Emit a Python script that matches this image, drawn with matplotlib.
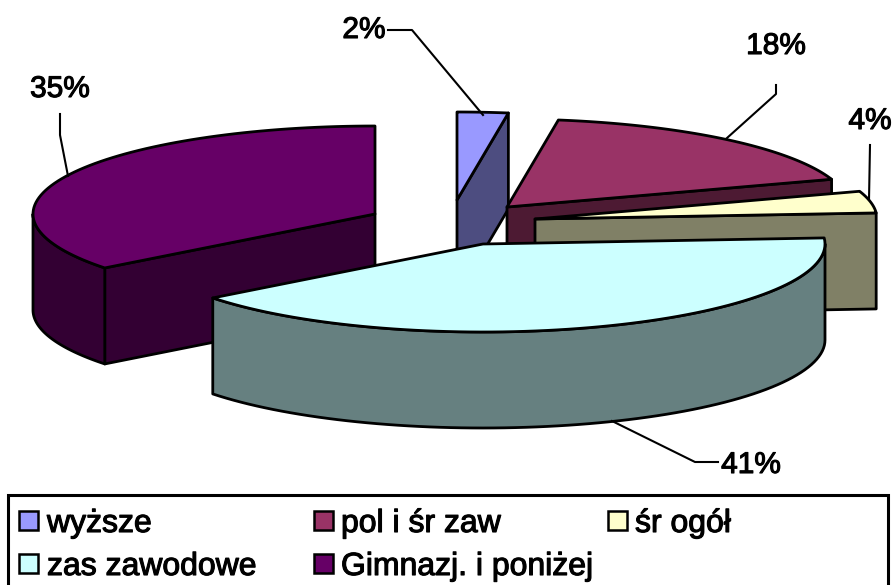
import numpy as np
import matplotlib
matplotlib.use("Agg")
import matplotlib.pyplot as plt
from matplotlib.patches import Polygon, Rectangle
import matplotlib.patheffects as pe

# --- data ---
categories = ["wyższe", "pol i śr zaw", "śr ogół", "zas zawodowe", "Gimnazj. i poniżej"]
values = [2.4, 17.5, 4.0, 40.6, 35.5]          # slice sizes
percent_labels = ["2%", "18%", "4%", "41%", "35%"]

# --- style ---
top_colors = ["#9999FF", "#993366", "#FFFFCC", "#CCFFFF", "#660066"]
side_colors = ["#4D4D80", "#4D1A33", "#808066", "#668080", "#330033"]

# --- layout (pixel space) ---
apex = [(457, 200), (507, 207), (535, 219), (483, 244), (375, 214)]
RX, RY, DEPTH = 342, 88, 96
draw_order = [0, 1, 2, 4, 3]
leaders = {
    0: [(388, 30), (412, 30), (483, 115)],
    1: [(776, 85), (776, 94), (727, 138)],
    2: [(870, 145), (869, 200)],
    3: [(612, 421), (695, 462), (718, 462)],
    4: [(60, 114), (60, 135), (68, 176)],
}
label_pos = {0: (364, 30), 1: (776, 46), 2: (870, 121), 3: (751, 465), 4: (60, 89)}
legend_x = [19, 314, 608, 19, 314]
legend_text_x = [47, 341, 635, 47, 341]
legend_base_y = [532, 532, 532, 575, 575]
LEGEND_BOX = 19

plt.rcParams["font.family"] = ["Liberation Sans", "DejaVu Sans"]
fig = plt.figure(figsize=(8.95, 5.85), dpi=100)
ax = fig.add_axes([0, 0, 1, 1])
ax.set_xlim(0, 895)
ax.set_ylim(585, 0)
ax.axis("off")

bounds = np.cumsum([0] + values) / sum(values) * 2 * np.pi


def pt(c, t, drop=0):
    return (c[0] + RX * np.sin(t), c[1] - RY * np.cos(t) + drop)


def arc(c, a, b, drop=0):
    ts = np.linspace(a, b, 80)
    return [pt(c, t, drop) for t in ts]


LW = 2.0
for i in draw_order:
    c = apex[i]
    a, b = bounds[i], bounds[i + 1]
    kw = dict(facecolor=side_colors[i], edgecolor="black", linewidth=LW, joinstyle="round")
    if np.sin(a) < -1e-6:   # start radial face looks to the viewer
        ax.add_patch(Polygon([c, pt(c, a), pt(c, a, DEPTH), (c[0], c[1] + DEPTH)], **kw))
    if np.sin(b) > 1e-6:    # end radial face looks to the viewer
        ax.add_patch(Polygon([c, pt(c, b), pt(c, b, DEPTH), (c[0], c[1] + DEPTH)], **kw))
    lo, hi = max(a, np.pi / 2), min(b, 3 * np.pi / 2)
    if hi > lo:             # outer wall
        ax.add_patch(Polygon(arc(c, lo, hi) + arc(c, lo, hi, DEPTH)[::-1], **kw))
    ax.add_patch(Polygon([c] + arc(c, a, b), facecolor=top_colors[i],
                         edgecolor="black", linewidth=LW, joinstyle="round"))

stroke = [pe.withStroke(linewidth=0.8, foreground="black")]
for i, pts in leaders.items():
    xs, ys = zip(*pts)
    ax.plot(xs, ys, color="black", lw=1.5, zorder=1)
    ax.text(*label_pos[i], percent_labels[i], fontsize=21.5, ha="center", va="center",
            color="black", path_effects=stroke)

# legend: frame runs off the bottom of the picture, as in the reference
ax.add_patch(Rectangle((8.5, 494.5), 879.5, 110, facecolor="white", edgecolor="black",
                       linewidth=2.2, clip_on=True, zorder=3))
for i, name in enumerate(categories):
    y = legend_base_y[i]
    ax.add_patch(Rectangle((legend_x[i], y - 21), LEGEND_BOX, LEGEND_BOX, facecolor=top_colors[i],
                           edgecolor="black", linewidth=1.8, zorder=4))
    ax.text(legend_text_x[i], y, name, fontsize=23, ha="left", va="baseline", color="black",
            path_effects=stroke, zorder=4)

fig.savefig("out.png", dpi=100)
